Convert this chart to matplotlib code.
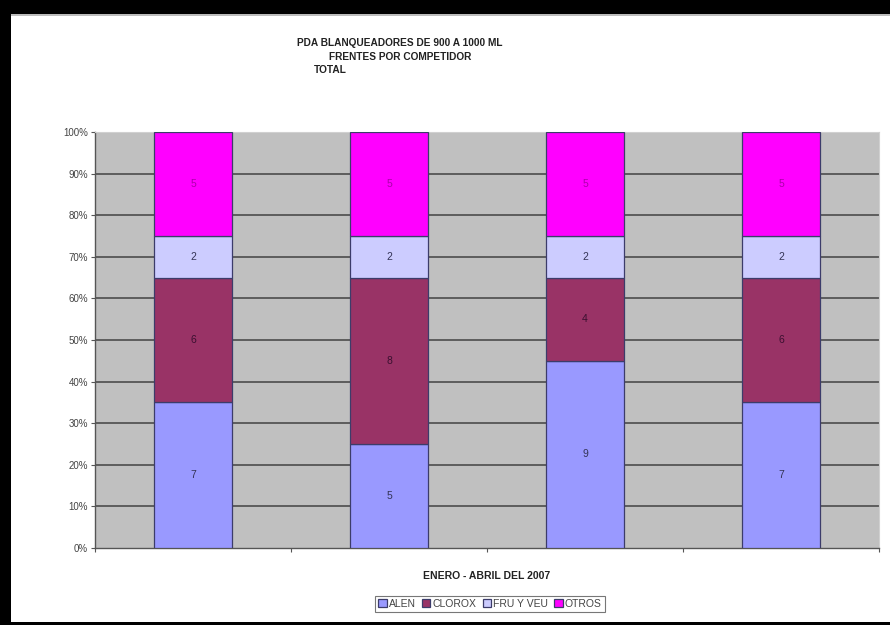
import numpy as np
import matplotlib
matplotlib.use('Agg')
import matplotlib.pyplot as plt
from matplotlib.patches import Rectangle

plt.rcParams['font.family'] = ['Liberation Sans', 'DejaVu Sans']

# data (frentes por competidor)
periods = ['P1', 'P2', 'P3', 'P4']
alen = [7, 5, 9, 7]
clorox = [6, 8, 4, 6]
fru_y_veu = [2, 2, 2, 2]
otros = [5, 5, 5, 5]

series_names = ['ALEN', 'CLOROX', 'FRU Y VEU', 'OTROS']
series_colors = ['#9999FF', '#993366', '#CCCCFF', '#FF00FF']
label_colors = ['#333355', '#3a1030', '#333355', '#aa00aa']
y_ticks = [0, 10, 20, 30, 40, 50, 60, 70, 80, 90, 100]


def main():
    fig = plt.figure(figsize=(8.9, 6.25), dpi=100)
    fig.patch.set_facecolor('white')

    # black frame of the screenshot
    fig.patches.append(Rectangle((0, 1 - 16 / 625), 1, 3 / 625, transform=fig.transFigure,
                                 facecolor='#bdbdbd', edgecolor='none', zorder=9))
    fig.patches.append(Rectangle((0, 1 - 14 / 625), 1, 14 / 625, transform=fig.transFigure,
                                 facecolor='black', edgecolor='none', zorder=10))
    fig.patches.append(Rectangle((0, 0), 11 / 890, 1, transform=fig.transFigure,
                                 facecolor='black', edgecolor='none', zorder=10))
    fig.patches.append(Rectangle((0, 0), 1, 3 / 625, transform=fig.transFigure,
                                 facecolor='black', edgecolor='none', zorder=10))

    ax = fig.add_axes([95 / 890, 77 / 625, 784 / 890, 416 / 625])
    ax.set_facecolor('#C0C0C0')

    data = np.array([alen, clorox, fru_y_veu, otros], dtype=float)
    totals = data.sum(axis=0)
    pct = data / totals * 100

    x = np.arange(len(periods))
    bottom = np.zeros(len(periods))
    for i, name in enumerate(series_names):
        ax.bar(x, pct[i], width=0.40, bottom=bottom, color=series_colors[i],
               edgecolor='#3c3c6a', linewidth=0.9, label=name, zorder=3)
        for j in range(len(periods)):
            ax.text(x[j], bottom[j] + pct[i][j] / 2, f'{int(data[i][j])}',
                    ha='center', va='center', fontsize=7.5,
                    color=label_colors[i], zorder=4)
        bottom += pct[i]

    ax.set_xlim(-0.5, len(periods) - 0.5)
    ax.set_ylim(0, 100)
    ax.set_yticks(y_ticks)
    ax.set_yticklabels([f'{v}%' for v in y_ticks], fontsize=7, color='#444444')
    for v in y_ticks[1:-1]:
        ax.axhline(v, color='#555555', linewidth=1.3, zorder=1)

    ax.set_xticks(np.arange(len(periods) + 1) - 0.5)
    ax.set_xticklabels([])
    ax.tick_params(axis='x', length=3, color='#555555')
    ax.tick_params(axis='y', length=3, color='#555555', pad=2)

    for side in ['top', 'right']:
        ax.spines[side].set_color('#d0d0d0')
        ax.spines[side].set_linewidth(0.8)
    for side in ['left', 'bottom']:
        ax.spines[side].set_color('#555555')
        ax.spines[side].set_linewidth(1.0)

    ax.set_xlabel('ENERO - ABRIL DEL 2007', fontsize=7.5, fontweight='bold',
                  color='#222222', labelpad=10)

    fig.text(400 / 890, 1 - 43 / 625, 'PDA BLANQUEADORES DE 900 A 1000 ML',
             ha='center', va='center', fontsize=7.3, fontweight='bold', color='#222222')
    fig.text(400 / 890, 1 - 57 / 625, 'FRENTES POR COMPETIDOR',
             ha='center', va='center', fontsize=7.3, fontweight='bold', color='#222222')
    fig.text(330 / 890, 1 - 70 / 625, 'TOTAL',
             ha='center', va='center', fontsize=7.3, fontweight='bold', color='#222222')

    leg = fig.legend(loc='center', bbox_to_anchor=(490 / 890, 1 - 604 / 625), ncol=4,
                     fontsize=7.5, frameon=True, fancybox=False, handlelength=0.8,
                     handleheight=0.8, handletextpad=0.2, columnspacing=0.6,
                     borderpad=0.3)
    leg.get_frame().set_edgecolor('#555555')
    leg.get_frame().set_linewidth(0.8)
    for t in leg.get_texts():
        t.set_color('#444444')

    fig.savefig('out.png', dpi=100)
    plt.close(fig)


if __name__ == "__main__":
    main()
